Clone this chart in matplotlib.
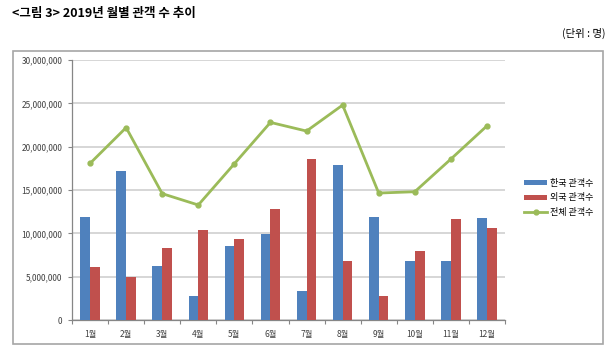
import matplotlib.pyplot as plt
import numpy as np
from matplotlib.patches import Rectangle
from matplotlib.ticker import FuncFormatter, FixedLocator

plt.rcParams['font.family'] = ['Noto Sans CJK KR', 'DejaVu Sans']

months = ['1월', '2월', '3월', '4월', '5월', '6월', '7월', '8월', '9월', '10월', '11월', '12월']
korean = [11.9, 17.15, 6.2, 2.8, 8.55, 9.93, 3.3, 17.9, 11.93, 6.8, 6.83, 11.8]
foreign = [6.1, 4.95, 8.32, 10.4, 9.36, 12.85, 18.53, 6.8, 2.76, 8.0, 11.7, 10.6]
total = [18.07, 22.2, 14.58, 13.27, 18.03, 22.8, 21.8, 24.8, 14.65, 14.8, 18.57, 22.4]
scale = 1_000_000

blue = '#4f81bd'
red = '#c0504d'
green = '#9bbb59'

fig = plt.figure(figsize=(6.16, 3.6), dpi=100)

# outer frame around the chart
fig.patches.append(Rectangle((13 / 616, 1 - 344 / 360), 590 / 616, 293 / 360,
                             transform=fig.transFigure, fill=False,
                             edgecolor='#a6a6a6', linewidth=1.2))

fig.text(12 / 616, 1 - 13 / 360, '<그림 3> 2019년 월별 관객 수 추이',
         fontsize=9, fontweight='bold', va='center', ha='left')
fig.text(605 / 616, 1 - 33 / 360, '(단위 : 명)', fontsize=7.5, fontweight='medium',
         va='center', ha='right')

ax = fig.add_axes([72 / 616, 1 - 320 / 360, 433 / 616, 260 / 360])

x = np.arange(len(months))
w = 0.27
k_vals = np.array(korean) * scale
f_vals = np.array(foreign) * scale
t_vals = np.array(total) * scale

b1 = ax.bar(x - w / 2, k_vals, w, color=blue, label='한국 관객수', zorder=3)
b2 = ax.bar(x + w / 2, f_vals, w, color=red, label='외국 관객수', zorder=3)
l1, = ax.plot(x, t_vals, color=green, linewidth=2, marker='o', markersize=3.5,
              label='전체 관객수', zorder=4)

ax.set_xlim(-0.5, len(months) - 0.5)
ax.set_ylim(0, 30 * scale)
ax.set_yticks(np.arange(0, 30 * scale + 1, 5 * scale))
ax.yaxis.set_major_formatter(FuncFormatter(lambda v, p: f'{int(v):,}'))
ax.grid(axis='y', color='#d0d0d0', linewidth=1.2, zorder=0)

ax.set_xticks(x)
ax.set_xticklabels(months)
ax.xaxis.set_minor_locator(FixedLocator(np.arange(-0.5, len(months), 1)))
ax.tick_params(axis='x', which='major', length=0, labelsize=6, colors='#404040', pad=7)
ax.tick_params(axis='x', which='minor', length=3, color='#868686', width=0.8)
ax.tick_params(axis='y', length=3, color='#868686', width=0.8, labelsize=6,
               labelcolor='#404040', pad=4)

for s in ['top', 'right']:
    ax.spines[s].set_visible(False)
for s in ['left', 'bottom']:
    ax.spines[s].set_color('#868686')
    ax.spines[s].set_linewidth(0.9)

ax.legend(handles=[b1, b2, l1], loc='center left', bbox_to_anchor=(1.035, 0.47),
          frameon=False, fontsize=6.5, handlelength=2.6, handleheight=0.5,
          handletextpad=0.3, labelspacing=0.6, borderaxespad=0)

fig.savefig('out.png', dpi=100)
